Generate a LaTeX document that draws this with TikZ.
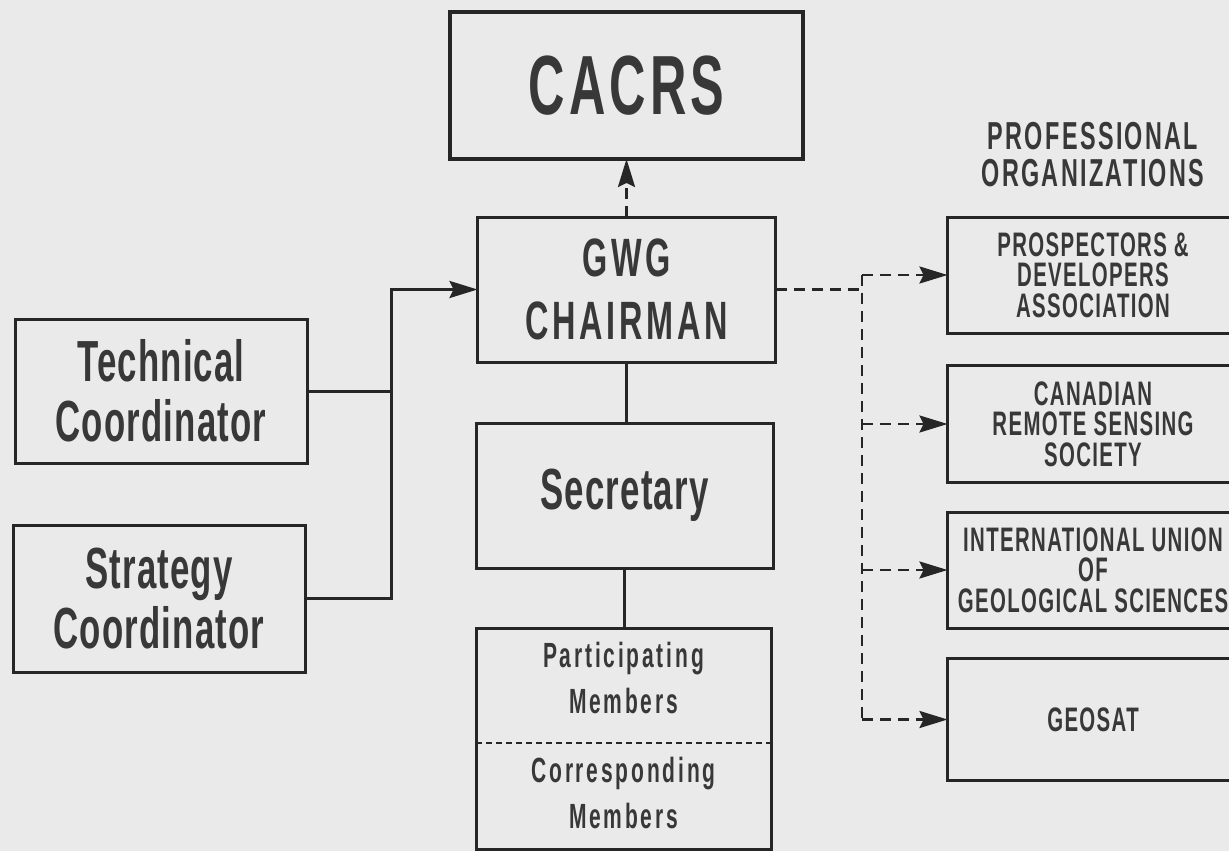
\documentclass[tikz,border=0pt]{standalone}
\usepackage{fontspec}
\setmainfont{Liberation Sans}
% condensed, tracked faces for each text size
\newfontfamily\faceTitle{Liberation Sans}[FakeStretch=0.6, LetterSpace=5]
\newfontfamily\faceCaps{Liberation Sans}[FakeStretch=0.6, LetterSpace=7]
\newfontfamily\faceHead{Liberation Sans}[FakeStretch=0.6, LetterSpace=6]
\newfontfamily\faceBig{Liberation Sans}[FakeStretch=0.6, LetterSpace=2]
\newfontfamily\faceSmall{Liberation Sans}[FakeStretch=0.6, LetterSpace=8]
\newfontfamily\faceOrg{Liberation Sans}[FakeStretch=0.6, LetterSpace=4]
\usetikzlibrary{arrows.meta}
\definecolor{paper}{RGB}{234,234,234}
\definecolor{ink}{RGB}{38,38,38}
\definecolor{type}{RGB}{56,56,56}

\begin{document}
\begin{tikzpicture}[x=1pt,y=-1pt,
  box/.style={draw=ink, line width=3pt, inner sep=0pt, outer sep=0pt,
              align=center, text=type},
  label/.style={inner sep=0pt, outer sep=0pt, align=center, text=type},
  ln/.style={draw=ink, line width=3pt},
  dsh/.style={draw=ink, line width=2.5pt, dash pattern=on 11pt off 7pt},
  divider/.style={draw=ink, line width=2pt, dash pattern=on 6pt off 4pt},
  arr/.style={-{Stealth[length=28pt,width=17pt,inset=4pt]}},
  huge/.style={font=\faceTitle\bfseries\fontsize{84}{90}\selectfont},
  big/.style={font=\faceBig\bfseries\fontsize{58}{60}\selectfont},
  mid/.style={font=\faceCaps\bfseries\fontsize{54}{63}\selectfont},
  head/.style={font=\faceHead\bfseries\fontsize{39}{37}\selectfont},
  small/.style={font=\faceSmall\bfseries\fontsize{35}{46}\selectfont},
  org/.style={font=\faceOrg\bfseries\fontsize{34}{30.5}\selectfont},
  orgbox/.style={box, org, minimum width=291pt}
]
% paper
\fill[paper] (0,0) rectangle (1229,851);
\useasboundingbox (0,0) rectangle (1229,851);
\clip (0,0) rectangle (1229,851);

% central column
\node[box, huge, line width=4.5pt, minimum width=353pt, minimum height=147pt]
  (cacrs) at (626.5,85.5) {CACRS};
\node[box, mid, minimum width=298pt, minimum height=145pt]
  (gwg) at (626.5,289.5) {GWG\\CHAIRMAN};
\node[box, big, minimum width=297pt, minimum height=145pt]
  (sec) at (624.5,495.5) {Secretary};
\node[box, minimum width=295pt, minimum height=221pt]
  (mem) at (623.5,738.5) {};
\node[label, small] (part) at (623.5,678) {Participating\\Members};
\node[label, small] (corr) at (623.5,793) {Corresponding\\Members};
\coordinate (div) at (0,743);
\draw[divider] (mem.west |- div) -- (mem.east |- div);

% coordinators
\node[box, big, minimum width=292pt, minimum height=144pt]
  (tech) at (161,391) {Technical\\Coordinator};
\node[box, big, minimum width=292pt, minimum height=147pt]
  (strat) at (159,598.5) {Strategy\\Coordinator};

% professional organizations
\node[label, head] (title) at (1093,155) {PROFESSIONAL\\ORGANIZATIONS};
\node[orgbox, minimum height=116pt] (pda) at (1093,275)
  {PROSPECTORS \&\\DEVELOPERS\\ASSOCIATION};
\node[orgbox, minimum height=117pt] (crss) at (1093,424)
  {CANADIAN\\REMOTE SENSING\\SOCIETY};
\node[orgbox, minimum height=116pt] (iugs) at (1093,570)
  {INTERNATIONAL UNION\\OF\\GEOLOGICAL SCIENCES};
\node[orgbox, minimum height=122pt] (geo) at (1093,719.5) {GEOSAT};

% solid connectors
\coordinate (bus) at (391,0);
\draw[ln] (tech.east) -- (tech.east -| bus);
\draw[ln, arr] (strat.east) -- (strat.east -| bus) -- (bus |- gwg.west) -- (gwg.west);
\draw[ln] (gwg.south) -- (gwg.south |- sec.north);
\draw[ln] (sec.south) -- (sec.south |- mem.north);

% dashed connectors
\draw[dsh, arr] (gwg.north) -- (gwg.north |- cacrs.south);
\coordinate (trunk) at (862,0);
\draw[dsh] (gwg.east) -- (gwg.east -| trunk);
\draw[dsh] (trunk |- pda.west) -- (trunk |- geo.west);
\draw[dsh, arr] (trunk |- pda.west) -- (pda.west);
\draw[dsh, arr] (trunk |- crss.west) -- (crss.west);
\draw[dsh, arr] (trunk |- iugs.west) -- (iugs.west);
\draw[dsh, arr] (trunk |- geo.west) -- (geo.west);
\end{tikzpicture}
\end{document}
